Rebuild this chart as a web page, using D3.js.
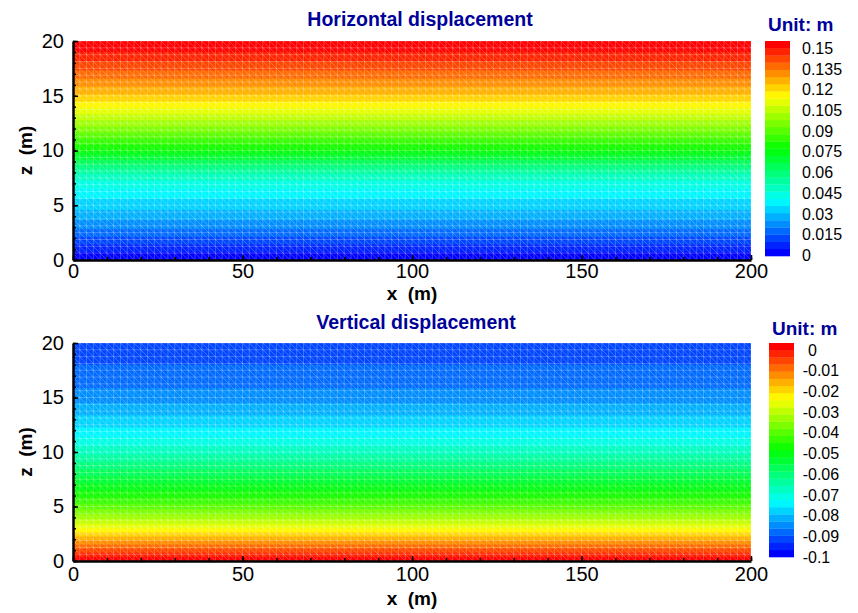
<!DOCTYPE html>
<html><head><meta charset="utf-8">
<script src="https://cdn.jsdelivr.net/npm/d3@7"></script>
<style>body{margin:0;background:#fff} svg{display:block}</style>
</head><body>
<svg id="c" width="858" height="613"></svg>
<script>
// ---- data ----
const zLevels  = [0,1,2,3,4,5,6,7,8,9,10,11,12,13,14,15,16,17,18,19,20];
const uProfile = [0,0.007,0.014,0.021,0.027,0.032,0.037,0.043,0.051,0.063,0.075,0.084,0.093,0.102,0.111,0.119,0.126,0.133,0.139,0.145,0.15];
const wProfile = [0,-0.009,-0.018,-0.027,-0.035,-0.042,-0.048,-0.053,-0.058,-0.063,-0.068,-0.072,-0.076,-0.079,-0.082,-0.085,-0.087,-0.089,-0.090,-0.091,-0.092];
const xTicks = [0,50,100,150,200];
const zTicks = [0,5,10,15,20];
const uLegendTicks = ["0","0.015","0.03","0.045","0.06","0.075","0.09","0.105","0.12","0.135","0.15"];
const wLegendTicks = ["-0.1","-0.09","-0.08","-0.07","-0.06","-0.05","-0.04","-0.03","-0.02","-0.01","0"];
const uRange = [0, 0.15];
const wRange = [-0.1, 0];
const nLevels = 30;
const meshNx = 100, meshNz = 32;

const FONT = "'Liberation Sans', Arial, Helvetica, sans-serif";
const TITLE_COLOR = "#00009a";
const svg = d3.select("#c");
const cmap = d3.scaleLinear().domain([0,0.25,0.5,0.75,1])
  .range(["#0000ff","#00ffff","#00ff00","#ffff00","#ff0000"]);
const bandColor = k => cmap(k/(nLevels-1));

function panel(o) {
  const g = svg.append("g");
  const x = d3.scaleLinear().domain([0,200]).range([o.left,o.right]);
  const y = d3.scaleLinear().domain([0,20]).range([o.bottom,o.top]);
  const clipId = "clip" + o.id;
  svg.append("clipPath").attr("id", clipId).append("rect")
    .attr("x", o.left).attr("y", o.top).attr("width", o.right-o.left).attr("height", o.bottom-o.top);

  // contour flood
  const grid = [];
  o.profile.forEach(v => { grid.push(v, v); });
  const thresholds = d3.range(nLevels).map(k => o.range[0] + k*(o.range[1]-o.range[0])/nLevels);
  const contours = d3.contours().size([2, zLevels.length]).thresholds(thresholds)(grid);
  const cx = d3.scaleLinear().domain([0.5,1.5]).range([0,200]).clamp(true);
  const cz = d3.scaleLinear().domain(zLevels.map((_,j)=>j+0.5)).range(zLevels).clamp(true);
  const proj = d3.geoTransform({point(px,py){ this.stream.point(x(cx(px)), y(cz(py))); }});
  const path = d3.geoPath(proj);
  const fg = g.append("g").attr("clip-path", `url(#${clipId})`);
  fg.selectAll("path.band").data(contours).join("path").attr("class","band")
    .attr("d", path).attr("fill", (d,i) => bandColor(i)).attr("stroke", (d,i)=>bandColor(i)).attr("stroke-width",0.5);

  // mesh
  const dx = 200/meshNx, dz = 20/meshNz;
  const p = d3.path();
  for (let i=0;i<=meshNx;i++){ p.moveTo(x(i*dx), y(0)); p.lineTo(x(i*dx), y(20)); }
  for (let j=0;j<=meshNz;j++){ p.moveTo(x(0), y(j*dz)); p.lineTo(x(200), y(j*dz)); }
  for (let i=0;i<meshNx;i++) for (let j=0;j<meshNz;j++){
    p.moveTo(x(i*dx), y((j+1)*dz)); p.lineTo(x((i+1)*dx), y(j*dz));
  }
  fg.append("path").attr("d", p.toString()).attr("fill","none")
    .attr("stroke","#ffffff").attr("stroke-opacity",0.3).attr("stroke-width",0.8);

  // axes
  g.append("g").attr("transform",`translate(0,${o.bottom})`)
    .call(d3.axisBottom(x).tickValues(xTicks).tickSizeInner(-5).tickSizeOuter(0).tickPadding(o.xPad));
  g.append("g").attr("transform",`translate(0,${o.bottom})`)
    .call(d3.axisBottom(x).tickValues(d3.range(0,201,10)).tickSizeInner(-3).tickSizeOuter(0).tickFormat(""))
    .call(s => s.select(".domain").remove());
  g.append("g").attr("transform",`translate(${o.left},0)`)
    .call(d3.axisLeft(y).tickValues(zTicks).tickSizeInner(-5).tickSizeOuter(0).tickPadding(9));
  g.append("g").attr("transform",`translate(${o.left},0)`)
    .call(d3.axisLeft(y).tickValues(d3.range(0,21,1)).tickSizeInner(-3).tickSizeOuter(0).tickFormat(""))
    .call(s => s.select(".domain").remove());
  g.selectAll(".domain").attr("stroke","#000").attr("stroke-width",2.5);
  g.selectAll(".tick line").attr("stroke","#000").attr("stroke-width",1.5);
  g.selectAll(".tick text").attr("font-family",FONT).attr("font-size",20).attr("fill","#000");

  // axis titles
  g.append("text").attr("x", (o.left+o.right)/2).attr("y", o.bottom+o.xTitleOff)
    .attr("text-anchor","middle").attr("font-family",FONT).attr("font-weight","bold").attr("font-size",19)
    .attr("xml:space","preserve").text("x  (m)");
  g.append("text").attr("transform",`translate(32,${(o.top+o.bottom)/2}) rotate(-90)`)
    .attr("text-anchor","middle").attr("font-family",FONT).attr("font-weight","bold").attr("font-size",19)
    .attr("xml:space","preserve").text("z  (m)");

  // title
  g.append("text").attr("x", o.titleX).attr("y", o.titleY).attr("text-anchor","middle")
    .attr("font-family",FONT).attr("font-weight","bold").attr("font-size",19.5).attr("fill",TITLE_COLOR)
    .text(o.title);

  // legend
  const lb = d3.scaleBand().domain(d3.range(nLevels)).range([o.lgBottom, o.lgTop]).paddingInner(0);
  g.append("g").selectAll("rect").data(d3.range(nLevels)).join("rect")
    .attr("x", o.lgX).attr("width", 25).attr("y", k => lb(k)).attr("height", lb.bandwidth()+0.3)
    .attr("fill", k => bandColor(k));
  const ly = d3.scaleLinear().domain(o.range).range([o.lblBottom, o.lblTop]);
  const lt = g.append("g").selectAll("text").data(o.legendTicks).join("text")
    .attr("x", o.lblX).attr("y", d => ly(+d)).attr("dy","0.35em")
    .attr("font-family",FONT).attr("font-size",16).attr("fill","#000").text(d => d);
  lt.each(function(d){
    if (d.startsWith("-")) {
      const t = d3.select(this);
      const tmp = g.append("text").attr("font-family",FONT).attr("font-size",16).text("-");
      const w = tmp.node().getComputedTextLength(); tmp.remove();
      t.attr("x", o.lblX - w);
    }
  });
  g.append("text").attr("x", o.lgX+3).attr("y", o.unitY)
    .attr("font-family",FONT).attr("font-weight","bold").attr("font-size",19).attr("fill",TITLE_COLOR)
    .text("Unit: m");
}

panel({id:1, left:73, right:751, top:41, bottom:260, profile:uProfile, range:uRange,
  title:"Horizontal displacement", titleX:420, titleY:26, xPad:4, xTitleOff:40,
  lgX:765, lgTop:41, lgBottom:256, lblTop:48.3, lblBottom:255.3, lblX:802, unitY:31,
  legendTicks:uLegendTicks});
panel({id:2, left:73, right:751, top:343, bottom:561, profile:wProfile, range:wRange,
  title:"Vertical displacement", titleX:416, titleY:329, xPad:6, xTitleOff:44,
  lgX:769, lgTop:343, lgBottom:557, lblTop:350, lblBottom:557, lblX:808, unitY:335,
  legendTicks:wLegendTicks});
</script>
</body></html>
